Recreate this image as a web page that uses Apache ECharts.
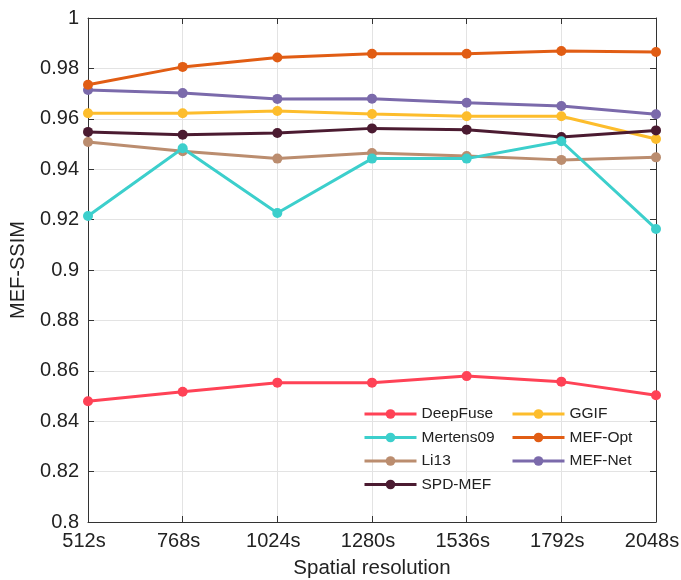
<!DOCTYPE html>
<html lang="en">
<head>
<meta charset="UTF-8" />
<title>MEF-SSIM</title>
<script src="https://cdn.jsdelivr.net/npm/echarts@6/dist/echarts.min.js"></script>
<style>
html, body { margin: 0; padding: 0; background: #fff; }
#main { width: 681px; height: 580px; }
</style>
</head>
<body>
<div id="main"></div>
<script type="text/javascript">
// data
var resolutions = ['512s', '768s', '1024s', '1280s', '1536s', '1792s', '2048s'];
var deepFuse  = [0.8479, 0.8517, 0.8553, 0.8553, 0.8579, 0.8557, 0.8503];
var mertens09 = [0.9214, 0.9483, 0.9226, 0.9442, 0.9442, 0.9511, 0.9163];
var li13      = [0.9508, 0.9471, 0.9442, 0.9464, 0.9452, 0.9437, 0.9447];
var spdMef    = [0.9548, 0.9537, 0.9544, 0.9562, 0.9557, 0.9528, 0.9554];
var ggif      = [0.9622, 0.9622, 0.9631, 0.9619, 0.9610, 0.9610, 0.9520];
var mefOpt    = [0.9735, 0.9806, 0.9843, 0.9858, 0.9858, 0.9869, 0.9865];
var mefNet    = [0.9714, 0.9702, 0.9679, 0.9680, 0.9664, 0.9651, 0.9618];

var names  = ['DeepFuse', 'Mertens09', 'Li13', 'SPD-MEF', 'GGIF', 'MEF-Opt', 'MEF-Net'];
var values = [deepFuse, mertens09, li13, spdMef, ggif, mefOpt, mefNet];
var colors = ['#ff4256', '#3ccfcc', '#bb8d6f', '#4b1b31', '#fdbd2c', '#e15d14', '#7b6aab'];

var font = 'Liberation Sans, Arial, sans-serif';

var series = [];
for (var i = 0; i < names.length; i++) {
    series.push({
        name: names[i],
        type: 'line',
        data: values[i],
        symbol: 'circle',
        symbolSize: 10,
        lineStyle: { width: 3, color: colors[i] },
        itemStyle: { color: colors[i] },
        z: 10 - i
    });
}

var legendCommon = {
    orient: 'vertical',
    top: 401,
    itemWidth: 52, itemHeight: 12, itemGap: 7.5,
    lineStyle: { width: 3 },
    textStyle: { fontSize: 15.5, color: '#222', fontFamily: font }
};

var myChart = echarts.init(document.getElementById('main'));
var option = {
    animation: false,
    textStyle: { fontFamily: font },
    grid: { left: 88, right: 25, top: 18, bottom: 58, outerBoundsMode: 'none', containLabel: false },
    legend: [
        Object.assign({ data: ['DeepFuse', 'Mertens09', 'Li13', 'SPD-MEF'], left: 358 }, legendCommon),
        Object.assign({ data: ['GGIF', 'MEF-Opt', 'MEF-Net'], left: 506 }, legendCommon)
    ],
    xAxis: [
        {
            type: 'category',
            data: resolutions,
            boundaryGap: false,
            name: 'Spatial resolution',
            nameLocation: 'middle',
            nameGap: 36,
            nameTextStyle: { fontSize: 20.5, color: '#222' },
            axisLine: { lineStyle: { color: '#333', width: 1 } },
            axisTick: { inside: true, length: 6, lineStyle: { color: '#333' } },
            axisLabel: { fontSize: 20, color: '#222', margin: 9, padding: [0, 8, 0, 0] },
            splitLine: { show: true, lineStyle: { color: '#e3e3e3', width: 1 } }
        },
        {
            type: 'category',
            data: resolutions,
            boundaryGap: false,
            position: 'top',
            axisLine: { lineStyle: { color: '#333', width: 1 } },
            axisTick: { inside: true, length: 6, lineStyle: { color: '#333' } },
            axisLabel: { show: false },
            splitLine: { show: false }
        }
    ],
    yAxis: [
        {
            type: 'value',
            min: 0.8, max: 1, interval: 0.02,
            name: 'MEF-SSIM',
            nameLocation: 'middle',
            nameGap: 60,
            nameTextStyle: { fontSize: 20, color: '#222' },
            axisLine: { show: true, lineStyle: { color: '#333', width: 1 } },
            axisTick: { show: true, inside: true, length: 6, lineStyle: { color: '#333' } },
            axisLabel: {
                fontSize: 20, color: '#222', margin: 9,
                formatter: function (v) { return String(parseFloat(v.toFixed(2))); }
            },
            splitLine: { show: true, lineStyle: { color: '#e3e3e3', width: 1 } }
        },
        {
            type: 'value',
            min: 0.8, max: 1, interval: 0.02,
            position: 'right',
            axisLine: { show: true, lineStyle: { color: '#333', width: 1 } },
            axisTick: { show: true, inside: true, length: 6, lineStyle: { color: '#333' } },
            axisLabel: { show: false },
            splitLine: { show: false }
        }
    ],
    series: series
};
myChart.setOption(option);
</script>
</body>
</html>
